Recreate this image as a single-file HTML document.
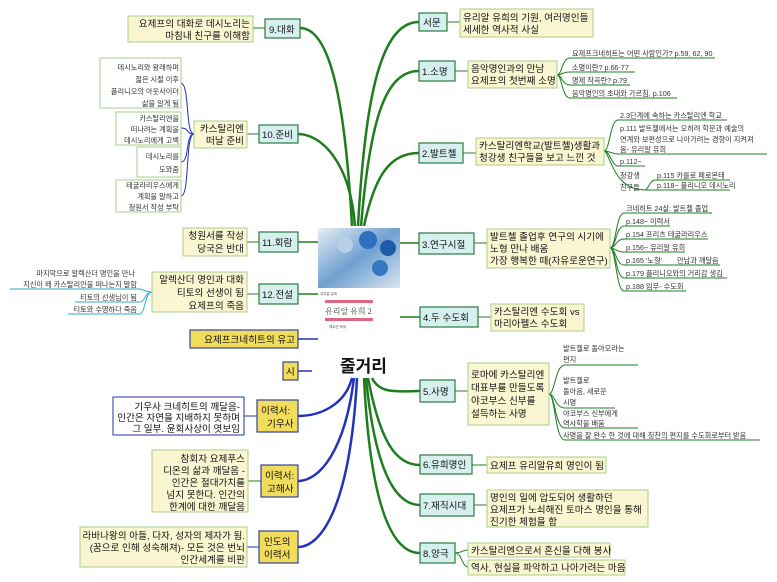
<!DOCTYPE html>
<html><head><meta charset="utf-8"><style>
html,body{margin:0;padding:0;background:#fff;}
svg{display:block;font-family:"Liberation Sans","Noto Sans CJK KR",sans-serif;}
.m{font-size:9.6px;fill:#111;}
.s{font-size:7.2px;fill:#333;}
.g{fill:none;stroke:#1f7d1f;}
.b{fill:none;stroke:#2233bb;}
</style></head><body>
<svg width="777" height="582" viewBox="0 0 777 582" xmlns="http://www.w3.org/2000/svg">
<g class="g" stroke-width="2.5">
<path d="M358,226 C365,100 380,22 419,22"/>
<path d="M361,226 C370,120 385,71 419,71"/>
<path d="M364,226 C375,175 390,153 419,153"/>
<path d="M352,226 C345,100 330,28 300,28"/>
<path d="M355,226 C350,160 320,134 298,134"/>
<path d="M372,378 C380,395 400,391 420,391"/>
<path d="M368,378 C380,440 395,465 420,465"/>
<path d="M366,378 C375,470 395,505 420,505"/>
<path d="M364,378 C370,500 390,553 420,553"/>
</g>
<g class="g" stroke-width="1.5">
<path d="M400,243 L419,243"/><path d="M400,317 L420,317"/>
<path d="M298,242 L318,242"/><path d="M298,294 L318,294"/>
</g>
<path d="M298,339 L318,339" class="b" stroke-width="1.5"/>
<path d="M298,371 L312,371" class="b" stroke-width="1.5"/>
<g class="b" stroke-width="2.5">
<path d="M352,378 C345,405 320,416 298,416"/>
<path d="M354,378 C345,450 320,481 298,481"/>
<path d="M357,378 C350,510 320,547 298,547"/>
</g>
<g class="g" stroke-width="1">
<path d="M447,22 L460,22"/><path d="M455,71 L468,71"/><path d="M463,153 L476,153"/>
<path d="M474,243 L487,243"/><path d="M478,317 L491,317"/><path d="M455,391 L468,391"/>
<path d="M472,465 L487,465"/><path d="M474,505 L487,505"/>
<path d="M455,553 C462,553 462,550 468,550"/><path d="M455,553 C462,553 462,567 468,567"/>
<path d="M253,28 L265,28"/><path d="M247,134 L259,134"/><path d="M247,242 L259,242"/><path d="M247,294 L259,294"/>
<path d="M248,481 L261,481"/>
</g>
<g class="b" stroke-width="1"><path d="M244,416 L257,416"/><path d="M247,547 L259,547"/>
<path d="M194,134 C185,134 190,85 181,83"/><path d="M194,134 C185,134 190,128 181,128"/>
<path d="M194,134 C185,134 190,162 181,162"/><path d="M194,134 C185,134 190,196 181,196"/></g>
<g class="g" stroke-width="1">
<path d="M557,75 C562,75 562,58 570,58 L715,58"/><path d="M557,75 C562,75 562,72 570,72 L635,72"/>
<path d="M557,75 C562,75 562,85 570,85 L630,85"/><path d="M557,75 C562,75 562,98 570,98 L677,98"/>
<path d="M604,151 C610,151 610,120 618,120 L727,120"/><path d="M604,151 C610,151 612,154 618,154 L767,154"/>
<path d="M604,151 C610,151 612,166 618,166 L645,166"/><path d="M604,151 C610,151 612,190 645,190 L730,190"/>
<path d="M645,190 C648,190 650,180 655,180 L730,180"/>
<path d="M610,248 C616,248 616,213 624,213 L712,213"/><path d="M610,248 C616,248 616,226 624,226 L670,226"/>
<path d="M610,248 C616,248 616,239 624,239 L708,239"/><path d="M610,248 C616,248 616,252 624,252 L685,252"/>
<path d="M610,248 C616,248 616,265 624,265 L720,265"/><path d="M610,248 C616,248 616,278 624,278 L727,278"/>
<path d="M610,248 C616,248 616,291 624,291 L686,291"/>
<path d="M549,394 C555,394 555,365 565,365 L638,365"/><path d="M549,394 C555,394 555,408 565,408 L615,408"/>
<path d="M549,394 C555,394 555,428 565,428 L638,428"/><path d="M549,394 C555,394 555,440 565,440 L760,440"/>
</g>
<g fill="none" stroke="#33aacc" stroke-width="1">
<path d="M152,292 C145,292 145,290 140,289 L10,289"/><path d="M152,292 C145,292 145,302 140,302 L75,302"/>
<path d="M152,292 C145,292 145,314 140,314 L68,314"/>
</g>
<defs><linearGradient id="gi" x1="0" y1="0" x2="1" y2="1"><stop offset="0" stop-color="#e8eef6"/><stop offset="0.5" stop-color="#6fa0d0"/><stop offset="1" stop-color="#d8e4f0"/></linearGradient></defs>
<rect x="318" y="228" width="82" height="60" fill="url(#gi)"/>
<circle cx="345" cy="245" r="8" fill="#b8cfe6"/><circle cx="368" cy="240" r="9" fill="#2f6fc0"/><circle cx="388" cy="248" r="8" fill="#1d5aa8"/><circle cx="380" cy="268" r="8" fill="#3478c0"/>
<rect x="318" y="288" width="82" height="52" fill="#fff"/>
<rect x="325" y="300" width="48" height="3" fill="#e06680"/>
<text x="325" y="314" font-size="8" font-family="Liberation Serif,Noto Serif CJK SC,serif" fill="#444">유리알 유희 2</text>
<rect x="325" y="318" width="48" height="3" fill="#e06680"/>
<text x="320" y="295" font-size="3.5" fill="#555">유리알 유희</text>
<text x="329" y="328" font-size="3.5" fill="#555">헤르만 헤세</text>
<text x="340" y="372" font-size="17" font-weight="bold" fill="#111">줄거리</text>

<g fill="#d6f0f0" stroke="#2a7a3a" stroke-width="1.2">
<rect x="419" y="13" width="28" height="18"/><rect x="419" y="61" width="36" height="20"/>
<rect x="419" y="143" width="44" height="20"/><rect x="419" y="233" width="55" height="21"/>
<rect x="420" y="307" width="58" height="20"/><rect x="420" y="380" width="35" height="22"/>
<rect x="420" y="455" width="52" height="19"/><rect x="420" y="494" width="54" height="22"/>
<rect x="420" y="543" width="35" height="20"/>
<rect x="265" y="19" width="35" height="19"/><rect x="259" y="125" width="39" height="18"/>
<rect x="259" y="232" width="39" height="20"/><rect x="259" y="284" width="39" height="20"/>
</g>
<g class="m">
<text x="423" y="26">서문</text><text x="422" y="75">1.소명</text><text x="422" y="157">2.발트첼</text>
<text x="422" y="248">3.연구시절</text><text x="423" y="321">4.두 수도회</text><text x="423" y="395">5.사명</text>
<text x="423" y="468">6.유희명인</text><text x="423" y="509">7.재직시대</text><text x="423" y="557">8.양극</text>
<text x="269" y="33">9.대화</text><text x="262" y="138">10.준비</text><text x="262" y="246">11.회람</text><text x="262" y="298">12.전설</text>
</g>
<g fill="#fbf6d2" stroke="#a9cf8a" stroke-width="1">
<rect x="460" y="9" width="133" height="28"/><rect x="468" y="61" width="89" height="27"/>
<rect x="476" y="138" width="128" height="27"/><rect x="487" y="229" width="123" height="39"/>
<rect x="491" y="304" width="93" height="27"/><rect x="468" y="363" width="81" height="62"/>
<rect x="487" y="457" width="119" height="16"/><rect x="487" y="490" width="161" height="37"/>
<rect x="468" y="543" width="142" height="14"/><rect x="468" y="560" width="157" height="15"/>
<rect x="128" y="16" width="125" height="26"/><rect x="194" y="121" width="53" height="27"/>
<rect x="183" y="228" width="64" height="28"/><rect x="152" y="272" width="95" height="40"/>
<rect x="152" y="450" width="96" height="62"/><rect x="80" y="527" width="167" height="40"/>
</g>
<g fill="#fff" stroke="#a9cf8a" stroke-width="1">
<rect x="100" y="58" width="81" height="50"/><rect x="116" y="112" width="65" height="33"/>
<rect x="137" y="147" width="44" height="30"/><rect x="116" y="180" width="65" height="32"/>
</g>
<rect x="113" y="397" width="131" height="38" fill="#fff" stroke="#2233aa" stroke-width="1"/>
<g fill="#f2dc5c" stroke="#334499" stroke-width="1.2">
<rect x="190" y="330" width="108" height="18"/><rect x="283" y="362" width="15" height="18"/>
<rect x="257" y="400" width="41" height="32"/><rect x="261" y="465" width="37" height="32"/>
<rect x="259" y="531" width="39" height="32"/>
</g>
<g class="m">
<text x="463" y="21">유리알 유희의 기원, 여러명인들</text><text x="463" y="33">세세한 역사적 사실</text>
<text x="471" y="72">음악명인과의 만남</text><text x="471" y="84">요제프의 첫번째 소명</text>
<text x="479" y="149">카스탈리엔학교(발트첼)생활과</text><text x="479" y="161">청강생 친구들을 보고 느낀 것</text>
<text x="490" y="240">발트첼 졸업후 연구의 시기에</text><text x="490" y="252">노형 만나 배움</text><text x="490" y="264">가장 행복한 때(자유로운연구)</text>
<text x="494" y="315">카스탈리엔 수도회 vs</text><text x="494" y="327">마리아펠스 수도회</text>
<text x="471" y="378">로마에 카스탈리엔</text><text x="471" y="391">대표부를 만들도록</text><text x="471" y="404">야코부스 신부를</text><text x="471" y="417">설득하는 사명</text>
<text x="490" y="469">요제프 유리알유희 명인이 됨</text>
<text x="490" y="501">명인의 일에 압도되어 생활하던</text><text x="490" y="513">요제프가 노쇠해진 토마스 명인을 통해</text><text x="490" y="525">진기한 체험을 함</text>
<text x="471" y="554">카스탈리엔으로서 혼신을 다해 봉사</text><text x="471" y="571">역사, 현실을 파악하고 나아가려는 마음</text>
<text x="250" y="27" text-anchor="end">요제프의 대화로 데시노리는</text><text x="250" y="39" text-anchor="end">마침내 친구를 이해함</text>
<text x="244" y="132" text-anchor="end">카스탈리엔</text><text x="244" y="144" text-anchor="end">떠날 준비</text>
<text x="244" y="239" text-anchor="end">청원서를 작성</text><text x="244" y="252" text-anchor="end">당국은 반대</text>
<text x="244" y="283" text-anchor="end">알렉산더 명인과 대화</text><text x="244" y="296" text-anchor="end">티토의 선생이 됨</text><text x="244" y="309" text-anchor="end">요제프의 죽음</text>
<text x="295" y="343" text-anchor="end">요제프크네히트의 유고</text><text x="286" y="375">시</text>
<text x="240" y="410" text-anchor="end">기우사 크네히트의 깨달음-</text><text x="240" y="421" text-anchor="end">인간은 자연을 지배하지 못하며</text><text x="240" y="432" text-anchor="end">그 일부. 윤회사상이 엿보임</text>
<text x="261" y="414">이력서:</text><text x="267" y="427">기우사</text>
<text x="245" y="462" text-anchor="end">참회자 요제푸스</text><text x="245" y="474" text-anchor="end">디온의 삶과 깨달음 -</text><text x="245" y="486" text-anchor="end">인간은 절대가치를</text><text x="245" y="498" text-anchor="end">넘지 못한다. 인간의</text><text x="245" y="510" text-anchor="end">한계에 대한 깨달음</text>
<text x="265" y="479">이력서:</text><text x="267" y="492">고해사</text>
<text x="245" y="539" text-anchor="end">라바나왕의 아들, 다자, 성자의 제자가 됨.</text><text x="245" y="551" text-anchor="end">(꿈으로 인해 성숙해져)- 모든 것은 번뇌</text><text x="245" y="563" text-anchor="end">인간세계를 비판</text>
<text x="264" y="545">인도의</text><text x="264" y="558">이력서</text>
</g>
<g class="s">
<text x="179" y="70" text-anchor="end">데시노리와 왕래하며</text><text x="179" y="82" text-anchor="end">젊은 시절 이후</text><text x="179" y="94" text-anchor="end">플리니오의 아웃사이더</text><text x="179" y="106" text-anchor="end">삶을 알게 됨</text>
<text x="179" y="121" text-anchor="end">카스탈리엔을</text><text x="179" y="132" text-anchor="end">떠나려는 계획을</text><text x="179" y="143" text-anchor="end">데시노리에게 고백</text>
<text x="179" y="159" text-anchor="end">데시노리를</text><text x="179" y="172" text-anchor="end">도와줌</text>
<text x="179" y="188" text-anchor="end">테굴라리우스에게</text><text x="179" y="199" text-anchor="end">계획을 말하고</text><text x="179" y="210" text-anchor="end">청원서 작성 부탁</text>
<text x="135" y="276" text-anchor="end">마지막으로 알렉산더 명인을 만나</text><text x="137" y="287" text-anchor="end">지신이 왜 카스탈리안을 떠나는지 말함</text>
<text x="137" y="300" text-anchor="end">티토의 선생님이 됨</text><text x="137" y="312" text-anchor="end">티토와 수영하다 죽음</text>
<text x="572" y="56">요제프크네히트는 어떤 사람인가? p.59, 62, 90</text><text x="572" y="70">소명이란? p.66-77</text>
<text x="572" y="83">명제 작곡란? p.79</text><text x="572" y="96">음악명인의 초대와 가르침, p.106</text>
<text x="620" y="118">2.3단계에 속하는 카스탈리엔 학교</text><text x="620" y="131">p.111 발트첼에서는 오히려 학문과 예술의</text>
<text x="620" y="142">연계와 보편성으로 나아가려는 경향이 지켜져</text><text x="620" y="152">옴- 유리알 유희</text>
<text x="620" y="164">p.112~</text><text x="620" y="178">청강생</text><text x="620" y="190">친구들</text>
<text x="657" y="178">p.115 카를로 페로몬테</text><text x="657" y="188">p.118~ 플리니오 데시노리</text>
<text x="626" y="211">크네히트 24살: 발트첼 졸업</text><text x="626" y="224">p.148~ 이력서</text><text x="626" y="237">p.154 프리츠 테굴라리우스</text>
<text x="626" y="250">p.156~ 유리알 유희</text><text x="626" y="263">p.165 '노형'</text><text x="677" y="263">만남과 깨달음</text>
<text x="626" y="276">p.179 플리니오와의 거리감 생김</text><text x="626" y="289">p.188 임무- 수도회</text>
<text x="563" y="351">발트첼로 돌아오라는</text><text x="563" y="362">편지</text>
<text x="563" y="383">발트첼로</text><text x="563" y="394">돌아옴, 새로운</text><text x="563" y="405">시명</text>
<text x="563" y="416">야코부스 신부에게</text><text x="563" y="426">역사학을 배움</text>
<text x="563" y="438">사명을 잘 완수 한 것에 대해 칭찬의 편지를 수도회로부터 받음</text>
</g>
</svg>
</body></html>
